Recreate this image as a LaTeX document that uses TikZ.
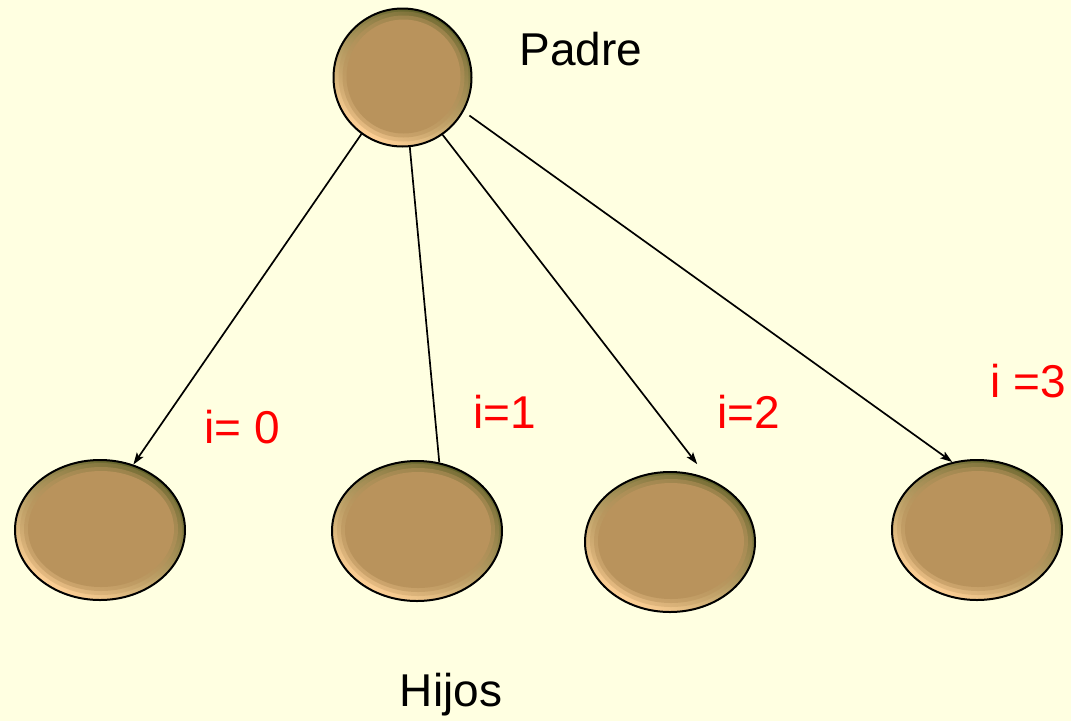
\documentclass[tikz,border=0pt]{standalone}
\usepackage{fontspec}
\setmainfont{Liberation Sans}
\usetikzlibrary{shapes.geometric,arrows.meta,shadings}

\definecolor{paper}{HTML}{FFFFE1}
\definecolor{bodycol}{HTML}{B9935C}
\definecolor{rimdark}{HTML}{5E6128}
\definecolor{rimlight}{HTML}{FFD096}

\tikzset{
  % shaded disc: #1 = x radius, #2 = y radius
  cell/.style 2 args={
    ellipse, draw=black, line width=2pt, inner sep=0pt,
    minimum width=2*#1, minimum height=2*#2,
    path picture={
      \shade[bottom color=rimlight, middle color=bodycol, top color=rimdark,
             shading angle=-30]
        (path picture bounding box.south west) rectangle
        (path picture bounding box.north east);
      \fill[bodycol, opacity=.3] ([shift={(1pt,1pt)}]path picture bounding box.center)
        ellipse [x radius={#1-4pt}, y radius={#2-4pt}];
      \fill[bodycol, opacity=.5] ([shift={(1pt,1pt)}]path picture bounding box.center)
        ellipse [x radius={#1-8pt}, y radius={#2-8pt}];
      \fill[bodycol] ([shift={(1pt,1pt)}]path picture bounding box.center)
        ellipse [x radius={#1-12pt}, y radius={#2-12pt}];
    }},
  link/.style={draw=black, line width=1.7pt},
  arrowlink/.style={link, -{Stealth[length=12pt, width=8pt, inset=2.5pt]}},
  caption/.style={text=black, font=\fontsize{46}{50}\selectfont, anchor=base, inner sep=0pt},
  index/.style={text=red, font=\fontsize{46}{50}\selectfont, anchor=base, inner sep=0pt}
}

\begin{document}
\begin{tikzpicture}[x=1pt, y=-1pt]
  \fill[paper] (0,0) rectangle (1071,721);
  \useasboundingbox (0,0) rectangle (1071,721);

  % parent and children
  \node[cell={69pt}{69pt}] (p) at (402.5,77.5) {};
  \node[cell={85pt}{70pt}] (c0) at (100,530) {};
  \node[cell={85pt}{70pt}] (c1) at (417,531) {};
  \node[cell={85pt}{70pt}] (c2) at (670,542) {};
  \node[cell={85pt}{70pt}] (c3) at (977,530) {};

  % connectors
  \draw[arrowlink] (p.234.8) -- (c0.63);
  \draw[link] (p.276) -- (c1.72.8);
  \draw[arrowlink, shorten >=18pt] (p.305) -- (c2.59.6);
  \draw[arrowlink, shorten <=7pt] (p.331.4) -- (c3.110.5);

  % captions
  \node[caption] (padre) at (581,65) {Padre};
  \node[caption] (hijos) at (451,706) {Hijos};
  \node[index] (i0) at (242,443) {i= 0};
  \node[index] (i1) at (505,428) {i=1};
  \node[index] (i2) at (749,428) {i=2};
  \node[index] (i3) at (1028,397) {i =3};
\end{tikzpicture}
\end{document}
